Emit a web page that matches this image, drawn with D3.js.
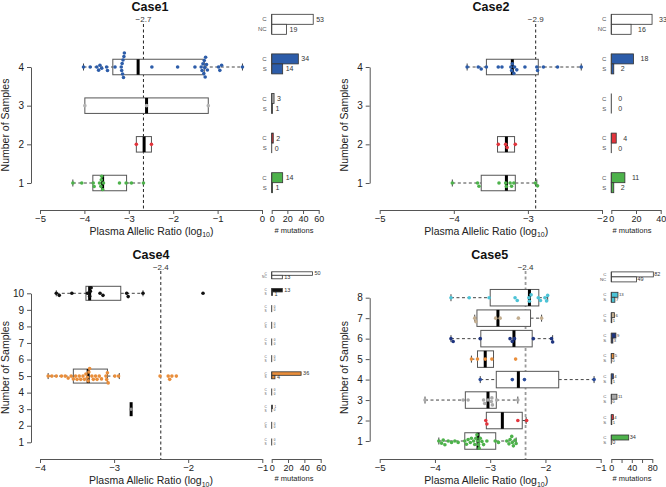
<!DOCTYPE html>
<html><head><meta charset="utf-8">
<script src="https://cdn.jsdelivr.net/npm/d3@7"></script>
<style>
body{margin:0;background:#fff}
svg{display:block}
text{font-family:"Liberation Sans",Arial,Helvetica,sans-serif}
</style>
</head><body>
<svg id="chart" width="666" height="487"></svg>
<script>
// ---------------- DATA ----------------
const case1Rows = [1,2,3,4];
const case1Colors = ["#4DB24B","#E3343C","#B4B4B4","#2C5CA9"];
const case1Box = [
  [-4.26,-3.81,-3.59,-3.05,-2.67],
  [-2.83,-2.83,-2.655,-2.49,-2.49],
  [-3.99,-3.99,-2.60,-1.21,-1.21],
  [-4.02,-3.36,-2.79,-1.30,-0.44]
];
const case1Points = [
  [-4.26,-4.06,-3.80,-3.78,-3.66,-3.63,-3.62,-3.61,-3.59,-3.57,-3.21,-3.06,-2.94,-2.67],
  [-2.83,-2.49],
  [-3.99,-2.60,-1.21],
  [-4.02,-3.87,-3.72,-3.68,-3.65,-3.61,-3.50,-3.48,-3.31,-3.17,-3.16,-3.15,-3.14,-3.13,-3.12,-3.11,-3.10,
   -2.48,-1.90,-1.51,-1.37,-1.35,-1.33,-1.31,-1.30,-1.29,-1.28,-1.27,-1.25,-1.23,-0.98,-0.95,-0.91,-0.44]
];
const case1C = [14,2,3,34];
const case1S = [1,0,1,14];
const case1Totals = [53,19];
const case1Median = -2.67;

const case2Rows = [1,2,3,4];
const case2Colors = ["#4DB24B","#E3343C","#B4B4B4","#2C5CA9"];
const case2Box = [
  [-4.02,-3.63,-3.29,-3.17,-2.88],
  [-3.41,-3.41,-3.29,-3.18,-3.18],
  null,
  [-3.82,-3.56,-3.21,-2.86,-2.28]
];
const case2Points = [
  [-4.02,-3.68,-3.66,-3.39,-3.30,-3.29,-3.24,-3.22,-3.19,-2.90,-2.87],
  [-3.40,-3.30,-3.28,-3.17],
  [],
  [-3.82,-3.67,-3.63,-3.56,-3.40,-3.35,-3.23,-3.22,-3.21,-3.19,-3.18,-3.15,-3.04,-2.88,-2.87,-2.79,-2.60,-2.28]
];
const case2C = [11,4,0,18];
const case2S = [2,0,0,2];
const case2Totals = [33,16];
const case2Median = -2.895;

const case4Rows = [1,2,3,4,5,6,7,8,9,10];
const case4Colors = ["#999999","#999999","#8C8C8C","#999999","#E98E3B","#999999","#999999","#999999","#999999","#111111"];
const case4Box = [
  null, null,
  [-2.77,-2.77,-2.77,-2.77,-2.77],
  null,
  [-3.89,-3.55,-3.35,-3.09,-2.93],
  null, null, null, null,
  [-3.78,-3.38,-3.33,-2.91,-2.61]
];
const case4Points = [
  [], [],
  [-2.77],
  [],
  [-3.89,-3.84,-3.78,-3.71,-3.66,-3.62,-3.58,-3.55,-3.52,-3.50,-3.47,-3.45,-3.42,-3.40,-3.38,-3.36,-3.35,-3.34,
   -3.33,-3.30,-3.28,-3.25,-3.23,-3.20,-3.17,-3.11,-3.10,-3.09,-3.08,-2.99,-2.94,-2.38,-2.27,-2.25,-2.22,-2.16],
  [], [], [], [],
  [-3.78,-3.74,-3.57,-3.36,-3.33,-3.32,-3.31,-3.19,-3.15,-2.83,-2.81,-2.61,-1.80]
];
const case4C = [0,0,1,0,36,0,0,0,0,13];
const case4S = [0,0,0,0,4,0,0,0,0,1];
const case4Totals = [50,13];
const case4Median = -2.37;

const case5Rows = [1,2,3,4,5,6,7,8];
const case5Colors = ["#4DB24B","#E3343C","#A9A9A9","#2B4C9B","#E98E3B","#1F3580","#C3AE90","#4CC3D6"];
const case5Box = [
  [-3.93,-3.46,-3.22,-2.90,-2.53],
  [-3.07,-3.07,-2.78,-2.42,-2.35],
  [-4.18,-3.45,-3.04,-2.89,-2.50],
  [-3.18,-2.89,-2.49,-1.76,-1.12],
  [-3.34,-3.23,-3.09,-2.94,-2.94],
  [-3.71,-3.17,-2.57,-2.24,-1.87],
  [-3.28,-3.24,-2.86,-2.27,-2.07],
  [-3.71,-3.00,-2.29,-2.12,-1.96]
];
const case5Points = [
  [-3.93,-3.88,-3.85,-3.82,-3.76,-3.70,-3.64,-3.58,-3.46,-3.43,-3.40,-3.36,-3.34,-3.30,-3.28,-3.26,-3.24,
   -3.22,-3.21,-3.20,-3.18,-3.15,-3.12,-3.06,-2.91,-2.85,-2.70,-2.66,-2.64,-2.61,-2.60,-2.58,-2.55,-2.53],
  [-3.08,-3.06,-2.50,-2.34],
  [-4.18,-3.49,-3.40,-3.12,-3.10,-3.04,-2.98,-2.97,-2.96,-2.88,-2.50],
  [-3.18,-2.60,-2.38,-1.12],
  [-3.34,-3.23,-3.09,-2.97,-2.54],
  [-3.71,-3.67,-3.18,-2.64,-2.60,-2.56,-2.22,-1.89,-1.87],
  [-3.28,-3.26,-2.90,-2.82,-2.49,-2.07],
  [-3.71,-3.38,-3.02,-2.55,-2.51,-2.30,-2.29,-2.26,-2.13,-2.09,-2.01,-1.98,-1.96]
];
const case5C = [34,4,11,4,5,9,6,13];
const case5S = [0,1,0,1,0,3,1,7];
const case5Totals = [82,49];
const case5Median = -2.36;

const totalLabels = ["C","NC"];
const rowBarLabels = ["C","S"];

// ---------------- LAYOUT ----------------
const layouts = [
 {title:"Case1", rows:case1Rows, colors:case1Colors, box:case1Box, pts:case1Points, C:case1C, S:case1S, tot:case1Totals, med:case1Median,
  xDom:[-5,0], xR:[40,262], xTicks:[-5,-4,-3,-2,-1,0], rowR:[183,67], yAxisX:31, axisY:210, medTop:24, medLabelY:21.5,
  barDom:[0,60], barR:[271.7,318.7], barTicks:[0,20,40,60], barLab:[0,20,40,60], barRowR:[182.7,24.3], barH:10,
  boxH:15.5, stapleH:7, ptR:1.8, titleX:150, titleY:11, xTitleX:151.5, xTitleY:234.5, yTitleX:9, yTitleY:125,
  mutX:294, mutY:233, catFs:6, numFs:7, numOff:3, medColor:"#222", medW:1},
 {title:"Case2", rows:case2Rows, colors:case2Colors, box:case2Box, pts:case2Points, C:case2C, S:case2S, tot:case2Totals, med:case2Median,
  xDom:[-5,-2], xR:[379.7,602], xTicks:[-5,-4,-3,-2], rowR:[183,67], yAxisX:369.7, axisY:210, medTop:24, medLabelY:21.5,
  barDom:[0,40], barR:[611.3,660.7], barTicks:[0,20,40], barLab:[0,20,40], barRowR:[182.7,24.3], barH:10,
  boxH:15.5, stapleH:7, ptR:1.8, titleX:491, titleY:11, xTitleX:486.3, xTitleY:234.5, yTitleX:348, yTitleY:125,
  mutX:632, mutY:233, catFs:6, numFs:7, numOff:7, medColor:"#222", medW:1},
 {title:"Case4", rows:case4Rows, colors:case4Colors, box:case4Box, pts:case4Points, C:case4C, S:case4S, tot:case4Totals, med:case4Median,
  xDom:[-4,-1], xR:[40,262.3], xTicks:[-4,-3,-2,-1], rowR:[442.3,293.3], yAxisX:31, axisY:459, medTop:271, medLabelY:269.5,
  barDom:[0,60], barR:[271.7,320.7], barTicks:[0,20,40,60], barLab:[0,20,40,60], barRowR:[442,275.3], barH:3.5,
  boxH:14, stapleH:6, ptR:1.8, titleX:151, titleY:258.5, xTitleX:151, xTitleY:484, yTitleX:9, yTitleY:367.5,
  mutX:294, mutY:481, catFs:3.2, numFs:5.5, numOff:2, medColor:"#222", medW:1},
 {title:"Case5", rows:case5Rows, colors:case5Colors, box:case5Box, pts:case5Points, C:case5C, S:case5S, tot:case5Totals, med:case5Median,
  xDom:[-5,-1], xR:[379.7,600.7], xTicks:[-5,-4,-3,-2,-1], rowR:[441,297.7], yAxisX:369.7, axisY:459, medTop:271, medLabelY:269.5,
  barDom:[0,80], barR:[611.3,652.3], barTicks:[0,20,40,60,80], barLab:[0,40,80], barRowR:[440,276.9], barH:5,
  boxH:16.5, stapleH:7, ptR:1.8, titleX:489.7, titleY:258.5, xTitleX:486.3, xTitleY:484, yTitleX:348, yTitleY:367.5,
  mutX:632, mutY:481, catFs:4.4, numFs:5.5, numOff:1, medColor:"#9a9a9a", medW:1.8}
];

const svg = d3.select("#chart");
const axisColor = "#555";
const textColor = "#222";
const fmt1 = d3.format(".1f");

function swarm(vals, xs, d) {
  const pts = vals.map(v => ({v, px: xs(v), dy: 0})).sort((a,b)=>a.px-b.px);
  const placed = [];
  for (const p of pts) {
    const cands = [0];
    for (const q of placed) {
      const dx = Math.abs(p.px - q.px);
      if (dx < d) { const h = Math.sqrt(d*d - dx*dx); cands.push(q.dy + h, q.dy - h); }
    }
    cands.sort((a,b)=>Math.abs(a)-Math.abs(b));
    for (const c of cands) {
      if (placed.every(q => (p.px-q.px)**2 + (c-q.dy)**2 >= d*d - 1e-6)) { p.dy = c; break; }
    }
    placed.push(p);
  }
  return placed;
}

function styleAxis(g, fs) {
  g.selectAll(".domain").attr("stroke", axisColor).attr("stroke-width", 1);
  g.selectAll(".tick line").attr("stroke", axisColor).attr("stroke-width", 1);
  g.selectAll(".tick text").attr("fill", textColor).attr("font-size", fs + "px")
    .attr("font-family", "'Liberation Sans',Arial,sans-serif");
}

layouts.forEach(L => {
  const g = svg.append("g");
  const n = L.rows.length;
  const x = d3.scaleLinear().domain(L.xDom).range(L.xR);
  const y = d3.scaleLinear().domain([1, n]).range(L.rowR);
  const bx = d3.scaleLinear().domain(L.barDom).range(L.barR);
  const by = d3.scaleLinear().domain([1, n + 1]).range(L.barRowR);

  // title
  g.append("text").attr("x", L.titleX).attr("y", L.titleY).attr("text-anchor", "middle")
    .attr("font-size", "12.5px").attr("font-weight", "bold").attr("fill", "#111").text(L.title);

  // x axis
  const xa = g.append("g").attr("transform", `translate(0,${L.axisY})`)
    .call(d3.axisBottom(x).tickValues(L.xTicks).tickSize(4).tickPadding(1.5).tickSizeOuter(0).tickFormat(d3.format("d")));
  styleAxis(xa, 9.5);
  // y axis
  const ya = g.append("g").attr("transform", `translate(${L.yAxisX},0)`)
    .call(d3.axisLeft(y).tickValues(L.rows).tickSize(4).tickPadding(3).tickSizeOuter(0).tickFormat(d3.format("d")));
  styleAxis(ya, 10);

  // axis titles
  const xt = g.append("text").attr("x", L.xTitleX).attr("y", L.xTitleY).attr("text-anchor", "middle")
    .attr("font-size", "10.5px").attr("fill", textColor);
  xt.append("tspan").text("Plasma Allelic Ratio (log");
  xt.append("tspan").attr("font-size", "7px").attr("dy", 2.5).text("10");
  xt.append("tspan").attr("dy", -2.5).text(")");
  g.append("text").attr("transform", `translate(${L.yTitleX},${L.yTitleY}) rotate(-90)`)
    .attr("text-anchor", "middle").attr("font-size", "10.5px").attr("fill", textColor).text("Number of Samples");

  // median dashed line
  g.append("line").attr("x1", x(L.med)).attr("x2", x(L.med)).attr("y1", L.medTop).attr("y2", L.axisY)
    .attr("stroke", L.medColor).attr("stroke-width", L.medW).attr("stroke-dasharray", "3,2.5");
  g.append("text").attr("x", x(L.med)).attr("y", L.medLabelY).attr("text-anchor", "middle")
    .attr("font-size", "8px").attr("fill", "#333").text(fmt1(L.med));

  // boxes
  L.rows.forEach((r, i) => {
    const b = L.box[i];
    if (!b) return;
    const yc = y(r), h = L.boxH;
    const [lo, q1, md, q3, hi] = b;
    const wg = g.append("g").attr("stroke", "#444").attr("fill", "none");
    if (lo < q1) {
      wg.append("line").attr("x1", x(lo)).attr("x2", x(q1)).attr("y1", yc).attr("y2", yc).attr("stroke-dasharray", "3,2.5");
      wg.append("line").attr("x1", x(lo)).attr("x2", x(lo)).attr("y1", yc - L.stapleH/2).attr("y2", yc + L.stapleH/2);
    }
    if (hi > q3) {
      wg.append("line").attr("x1", x(q3)).attr("x2", x(hi)).attr("y1", yc).attr("y2", yc).attr("stroke-dasharray", "3,2.5");
      wg.append("line").attr("x1", x(hi)).attr("x2", x(hi)).attr("y1", yc - L.stapleH/2).attr("y2", yc + L.stapleH/2);
    }
    wg.append("rect").attr("x", x(q1)).attr("y", yc - h/2).attr("width", Math.max(0, x(q3) - x(q1))).attr("height", h)
      .attr("fill", "#fff").attr("stroke", "#555").attr("stroke-width", 1);
    g.append("line").attr("x1", x(md)).attr("x2", x(md)).attr("y1", yc - h/2).attr("y2", yc + h/2)
      .attr("stroke", "#000").attr("stroke-width", 3);
  });

  // points (beeswarm)
  L.rows.forEach((r, i) => {
    const sw = swarm(L.pts[i], x, L.ptR * 2);
    g.append("g").selectAll("circle").data(sw).join("circle")
      .attr("cx", d => d.px).attr("cy", d => y(r) + d.dy).attr("r", L.ptR)
      .attr("fill", L.colors[i]);
  });

  // bar axis
  const ba = g.append("g").attr("transform", `translate(0,${L.axisY})`)
    .call(d3.axisBottom(bx).tickValues(L.barTicks).tickSize(4).tickPadding(2).tickSizeOuter(0)
      .tickFormat(v => L.barLab.includes(v) ? d3.format("d")(v) : ""));
  styleAxis(ba, 9);
  g.append("text").attr("x", L.mutX).attr("y", L.mutY).attr("text-anchor", "middle")
    .attr("font-size", "7.5px").attr("fill", textColor).text("# mutations");

  // bars
  const groups = L.rows.map((r, i) => ({g: r, vals: [L.C[i], L.S[i]], fills: [L.colors[i], L.colors[i]], labs: rowBarLabels}));
  groups.push({g: n + 1, vals: L.tot, fills: ["#fff", "#fff"], labs: totalLabels});
  groups.forEach(G => {
    const yc = by(G.g), h = L.barH;
    const close = Math.abs(bx(G.vals[0]) - bx(G.vals[1])) < 8;
    const numFs = close ? Math.min(L.numFs, h * 0.85) : L.numFs;
    G.vals.forEach((v, k) => {
      const y0 = k === 0 ? yc - h : yc;
      g.append("rect").attr("x", bx(0)).attr("y", y0).attr("width", Math.max(0, bx(v) - bx(0))).attr("height", h)
        .attr("fill", G.fills[k]).attr("stroke", "#333").attr("stroke-width", 0.8);
      g.append("text").attr("x", bx(0) - 5).attr("y", y0 + h/2).attr("dy", "0.35em").attr("text-anchor", "end")
        .attr("font-size", L.catFs + "px").attr("fill", "#555").text(G.labs[k]);
      g.append("text").attr("x", bx(v) + L.numOff).attr("y", y0 + h/2).attr("dy", "0.35em").attr("text-anchor", "start")
        .attr("font-size", numFs + "px").attr("fill", "#333").text(v);
    });
    g.append("line").attr("x1", bx(0)).attr("x2", bx(0)).attr("y1", yc - h).attr("y2", yc + h)
      .attr("stroke", "#444").attr("stroke-width", 1);
  });
});
</script>
</body></html>
